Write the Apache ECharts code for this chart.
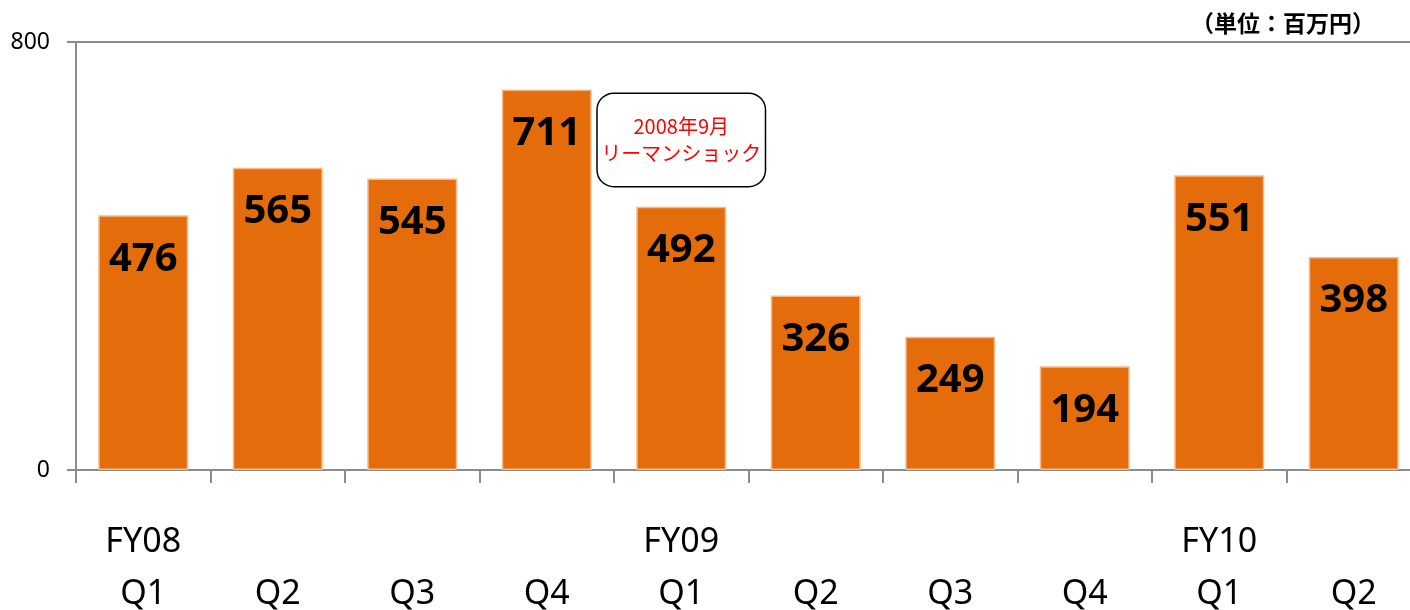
<!DOCTYPE html>
<html>
<head>
<meta charset="utf-8">
<script src="https://cdn.jsdelivr.net/npm/echarts@6/dist/echarts.min.js"></script>
<style>
  html, body { margin: 0; padding: 0; background: #fff; }
  #chart { width: 1410px; height: 610px; }
</style>
</head>
<body>
<div id="chart"></div>
<script>
// data
const fiscalYears = ['FY08', '', '', '', 'FY09', '', '', '', 'FY10', ''];
const quarters = ['Q1', 'Q2', 'Q3', 'Q4', 'Q1', 'Q2', 'Q3', 'Q4', 'Q1', 'Q2'];
const sales = [476, 565, 545, 711, 492, 326, 249, 194, 551, 398];
const yTicks = [0, 800];
const unitLabel = '（単位：百万円）';
const noteLines = ['2008年9月', 'リーマンショック'];

const categories = quarters.map((q, i) => fiscalYears[i] + '\n' + q);

const chart = echarts.init(document.getElementById('chart'), null, { renderer: 'canvas' });

const axisGray = '#8c8c8c';

chart.setOption({
  animation: false,
  title: {
    text: unitLabel,
    right: 30,
    top: 7,
    textStyle: {
      fontFamily: 'Noto Sans CJK JP',
      fontSize: 23,
      fontWeight: 'bold',
      color: '#000'
    }
  },
  grid: {
    left: 76,
    right: -11,
    top: 42,
    bottom: 140,
    outerBoundsMode: 'none'
  },
  xAxis: {
    type: 'category',
    data: categories,
    axisLine: { lineStyle: { color: axisGray, width: 2 } },
    axisTick: { show: true, length: 13, lineStyle: { color: axisGray, width: 2 } },
    axisLabel: {
      interval: 0,
      margin: 46,
      fontFamily: 'Noto Sans',
      fontSize: 34,
      lineHeight: 52,
      color: '#000'
    }
  },
  yAxis: {
    type: 'value',
    min: yTicks[0],
    max: yTicks[yTicks.length - 1],
    interval: 800,
    axisLine: { show: true, lineStyle: { color: axisGray, width: 2 } },
    axisTick: { show: true, length: 9, lineStyle: { color: axisGray, width: 2 } },
    splitLine: { show: true, lineStyle: { color: axisGray, width: 2 } },
    axisLabel: {
      margin: 26,
      fontFamily: 'Noto Sans',
      fontSize: 23,
      color: '#000'
    }
  },
  series: [{
    type: 'bar',
    data: sales,
    barWidth: 90,
    itemStyle: {
      color: '#e46c0a',
      borderColor: '#f7b98a',
      borderWidth: 1.5
    },
    label: {
      show: true,
      position: 'insideTop',
      distance: 24,
      fontFamily: 'Noto Sans',
      fontSize: 40,
      fontWeight: 'bold',
      color: '#000'
    },
    markPoint: {
      symbol: 'circle',
      symbolSize: 1,
      itemStyle: { color: 'rgba(0,0,0,0)' },
      label: {
        show: true,
        position: 'inside',
        formatter: noteLines.join('\n'),
        fontFamily: 'Noto Sans CJK JP',
        fontSize: 20,
        lineHeight: 27,
        color: '#ff0000',
        align: 'center',
        width: 167,
        padding: [19, 0],
        backgroundColor: '#fff',
        borderColor: '#000',
        borderWidth: 1.5,
        borderRadius: 16
      },
      data: [{ coord: [4, 617] }]
    }
  }]
});
</script>
</body>
</html>
